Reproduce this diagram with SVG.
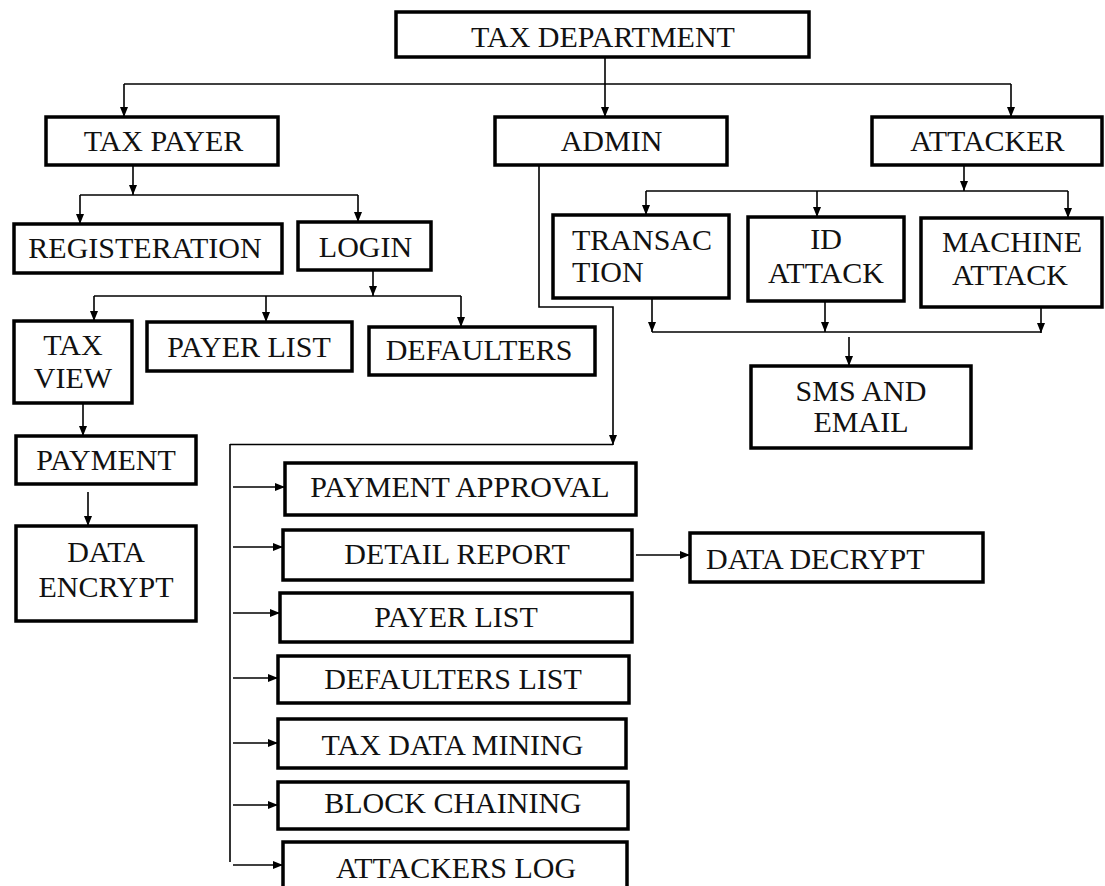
<svg xmlns="http://www.w3.org/2000/svg" width="1105" height="886" viewBox="0 0 1105 886">
<defs>
<style>
.box{fill:#fff;stroke:#000;stroke-width:3.5}
.t{font-size:30px;fill:#111;text-anchor:middle}
.ts{text-anchor:start}
.c{fill:none;stroke:#000;stroke-width:1.6}
.a{marker-end:url(#ah)}
</style>
<marker id="ah" viewBox="0 0 10 8" refX="10" refY="4" markerWidth="10" markerHeight="8" markerUnits="userSpaceOnUse" orient="auto"><path d="M0,0L10,4L0,8z" fill="#000"/></marker>
</defs>
<rect width="1105" height="886" fill="#fff"/>
<g id="connectors">
<path class="c a" d="M605,57V117"/>
<path class="c" d="M124,84H1011"/>
<path class="c a" d="M124,84V117"/>
<path class="c a" d="M1011,84V117"/>
<path class="c a" d="M133,165V195"/>
<path class="c" d="M80,195H358"/>
<path class="c a" d="M80,195V224"/>
<path class="c a" d="M358,195V222"/>
<path class="c a" d="M373,270V296"/>
<path class="c" d="M94,296H461"/>
<path class="c a" d="M94,296V321"/>
<path class="c a" d="M266,296V322"/>
<path class="c a" d="M461,296V327"/>
<path class="c a" d="M83,403V436"/>
<path class="c a" d="M88,492V526"/>
<path class="c a" d="M964,165V191"/>
<path class="c" d="M646,191H1068"/>
<path class="c a" d="M646,191V215"/>
<path class="c a" d="M817,191V217"/>
<path class="c a" d="M1068,191V218"/>
<path class="c a" d="M652,298V332"/>
<path class="c a" d="M825,301V332"/>
<path class="c a" d="M1041,307V333"/>
<path class="c" d="M652,332H1041"/>
<path class="c a" d="M849,337V366"/>
<path class="c a" d="M539,165V307H613V445"/>
<path class="c" d="M230,444.5H613"/>
<path class="c" d="M230,444V862"/>
<path class="c a" d="M233,487H285"/>
<path class="c a" d="M233,547H283"/>
<path class="c a" d="M233,613H280"/>
<path class="c a" d="M233,678H278"/>
<path class="c a" d="M233,743H278"/>
<path class="c a" d="M233,805H278"/>
<path class="c a" d="M233,865H283"/>
<path class="c a" d="M636,555H690"/>
</g>
<g font-family="'Liberation Serif', serif">
<g id="tax-department"><rect class="box" x="396" y="12" width="413" height="45"/><text class="t" x="603" y="47">TAX DEPARTMENT</text></g>
<g id="tax-payer"><rect class="box" x="46" y="117" width="232" height="48"/><text class="t" x="163.5" y="151">TAX PAYER</text></g>
<g id="admin"><rect class="box" x="495" y="117" width="232" height="48"/><text class="t" x="611.5" y="151">ADMIN</text></g>
<g id="attacker"><rect class="box" x="872" y="117" width="230" height="48"/><text class="t" x="987.5" y="151">ATTACKER</text></g>
<g id="registeration"><rect class="box" x="14" y="224" width="268" height="49"/><text class="t" x="145" y="258">REGISTERATION</text></g>
<g id="login"><rect class="box" x="298" y="222" width="133" height="48"/><text class="t" x="365.5" y="257">LOGIN</text></g>
<g id="transaction"><rect class="box" x="553" y="215" width="176" height="83"/><text class="t ts" x="572" y="250">TRANSAC</text><text class="t ts" x="572" y="282">TION</text></g>
<g id="id-attack"><rect class="box" x="748" y="217" width="156" height="84"/><text class="t" x="826" y="249">ID</text><text class="t" x="826" y="283">ATTACK</text></g>
<g id="machine-attack"><rect class="box" x="921" y="218" width="181" height="89"/><text class="t" x="1012" y="252">MACHINE</text><text class="t" x="1010" y="285">ATTACK</text></g>
<g id="tax-view"><rect class="box" x="14" y="321" width="118" height="82"/><text class="t" x="73" y="355">TAX</text><text class="t" x="73" y="388">VIEW</text></g>
<g id="payer-list-1"><rect class="box" x="147" y="322" width="205" height="49"/><text class="t" x="249" y="357">PAYER LIST</text></g>
<g id="defaulters"><rect class="box" x="369" y="327" width="226" height="48"/><text class="t" x="479" y="360">DEFAULTERS</text></g>
<g id="sms-email"><rect class="box" x="751" y="366" width="220" height="82"/><text class="t" x="861" y="401">SMS AND</text><text class="t" x="861" y="432">EMAIL</text></g>
<g id="payment"><rect class="box" x="16" y="436" width="180" height="48"/><text class="t" x="106" y="470">PAYMENT</text></g>
<g id="data-encrypt"><rect class="box" x="16" y="526" width="180" height="95"/><text class="t" x="106" y="562">DATA</text><text class="t" x="106" y="597">ENCRYPT</text></g>
<g id="payment-approval"><rect class="box" x="285" y="463" width="351" height="52"/><text class="t" x="460" y="497">PAYMENT APPROVAL</text></g>
<g id="detail-report"><rect class="box" x="283" y="530" width="349" height="50"/><text class="t" x="457" y="564">DETAIL REPORT</text></g>
<g id="data-decrypt"><rect class="box" x="690" y="533" width="293" height="49"/><text class="t ts" x="706" y="569">DATA DECRYPT</text></g>
<g id="payer-list-2"><rect class="box" x="280" y="593" width="352" height="49"/><text class="t" x="456" y="627">PAYER LIST</text></g>
<g id="defaulters-list"><rect class="box" x="278" y="656" width="351" height="47"/><text class="t" x="453" y="689">DEFAULTERS LIST</text></g>
<g id="tax-data-mining"><rect class="box" x="278" y="719" width="348" height="49"/><text class="t" x="452.5" y="755">TAX DATA MINING</text></g>
<g id="block-chaining"><rect class="box" x="278" y="782" width="350" height="47"/><text class="t" x="453" y="813">BLOCK CHAINING</text></g>
<g id="attackers-log"><rect class="box" x="283" y="842" width="344" height="60"/><text class="t" x="456" y="878">ATTACKERS LOG</text></g>
</g>
</svg>
